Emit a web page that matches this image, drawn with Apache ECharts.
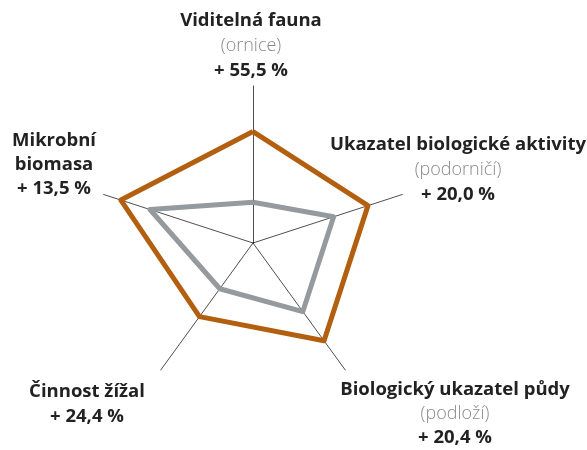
<!DOCTYPE html>
<html>
<head>
<meta charset="utf-8">
<script src="https://cdn.jsdelivr.net/npm/echarts@6/dist/echarts.min.js"></script>
<style>
  html, body { margin: 0; padding: 0; background: #fff; }
  #soil-radar { width: 587px; height: 450px; }
</style>
</head>
<body>
<div id="soil-radar"></div>
<script>
// indicators go counter-clockwise from the top
const indicatorNames = ['Viditelná fauna', 'Mikrobní\nbiomasa', 'Činnost žížal', 'Biologický ukazatel půdy', 'Ukazatel biologické aktivity']
const subLabels = ['(ornice)', '', '', '(podloží)', '(podorničí)']
const changeLabels = ['+ 55,5 %', '+ 13,5 %', '+ 24,4 %', '+ 20,4 %', '+ 20,0 %']
const afterValues = [71, 88.5, 58, 77, 77]
const beforeValues = [26, 69, 36, 54, 54]

// label blocks: centre x, top y, line height
const labelPos = [[251, 8, 25], [54, 129, 24], [87, 379, 25], [455, 378, 24], [458, 132, 25]]

const chart = echarts.init(document.getElementById('soil-radar'))

const labels = indicatorNames.map((name, i) => {
  let lines = name.split('\n').map(s => '{b|' + s + '}')
  if (subLabels[i]) lines.push('{g|' + subLabels[i] + '}')
  lines.push('{b|' + changeLabels[i] + '}')
  let lh = labelPos[i][2]
  return {
    type: 'text',
    x: labelPos[i][0],
    y: labelPos[i][1],
    style: {
      text: lines.join('\n'),
      align: 'center',
      verticalAlign: 'top',
      rich: {
        b: { fontFamily: 'Open Sans', fontWeight: 'bold', fontSize: 18.5, lineHeight: lh, fill: '#222' },
        g: { fontFamily: 'Open Sans', fontWeight: 300, fontSize: 18, lineHeight: lh, fill: '#8a8a8a' }
      }
    }
  }
})

chart.setOption({
  animation: false,
  radar: {
    center: [253, 243],
    radius: 157,
    startAngle: 90,
    splitNumber: 1,
    shape: 'polygon',
    indicator: indicatorNames.map(n => ({ name: n, max: 100 })),
    axisName: { show: false },
    axisLine: { lineStyle: { color: '#222', width: 0.8 } },
    splitLine: { show: false },
    splitArea: { show: false },
    axisTick: { show: false },
    axisLabel: { show: false }
  },
  graphic: labels,
  series: [{
    type: 'radar',
    symbol: 'none',
    data: [
      { value: beforeValues, lineStyle: { color: '#959a9e', width: 5 } },
      { value: afterValues, lineStyle: { color: '#b35f10', width: 5 } }
    ]
  }]
})
</script>
</body>
</html>
